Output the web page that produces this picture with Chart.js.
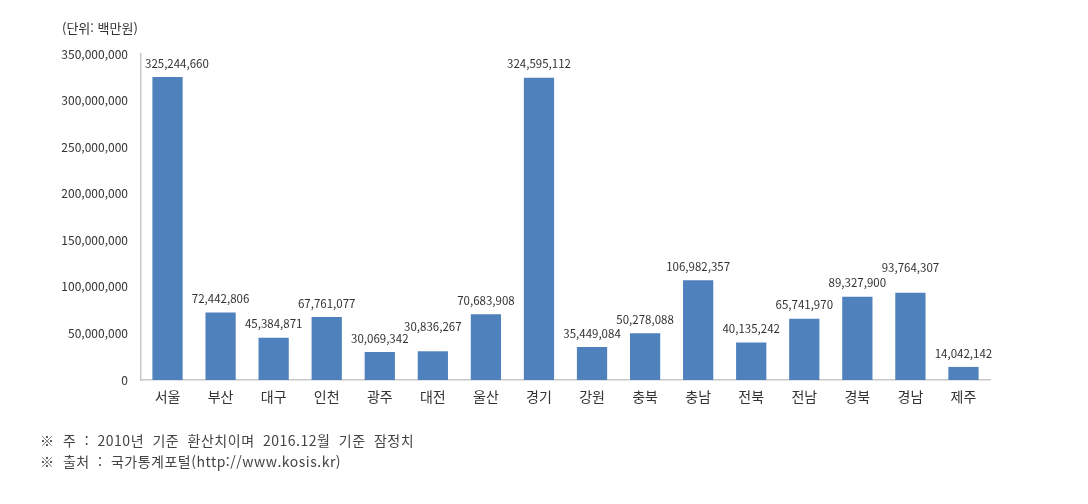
<!DOCTYPE html>
<html lang="ko">
<head>
<meta charset="utf-8">
<script src="https://cdn.jsdelivr.net/npm/chart.js@4"></script>
<style>
  html, body { margin: 0; padding: 0; background: #fff; }
  #wrap { position: relative; width: 1088px; height: 504px; }
  canvas { position: absolute; left: 0; top: 0; }
  .note { position: absolute; font-family: 'Noto Sans CJK KR', sans-serif; color: #333; white-space: nowrap; }
  .foot { font-size: 14px; color: #444; letter-spacing: 0.5px; word-spacing: 4px; }
</style>
</head>
<body>
<div id="wrap">
  <canvas id="chart" width="1088" height="504"></canvas>
  <div class="note" style="left:62px; top:18px; font-size:13px;">(단위: 백만원)</div>
  <div class="note foot" style="left:40px; top:430px;">※ 주 : 2010년 기준 환산치이며 2016.12월 기준 잠정치</div>
  <div class="note foot" style="left:40px; top:451px;">※ 출처 : 국가통계포털(http://www.kosis.kr)</div>
</div>
<script>
// ─── Data ─────────────────────────────────────────────
const regions = ['서울', '부산', '대구', '인천', '광주', '대전', '울산', '경기',
                 '강원', '충북', '충남', '전북', '전남', '경북', '경남', '제주'];
const grdpValues = [325244660, 72442806, 45384871, 67761077, 30069342, 30836267, 70683908, 324595112,
                    35449084, 50278088, 106982357, 40135242, 65741970, 89327900, 93764307, 14042142];
const yTicks = [0, 50000000, 100000000, 150000000, 200000000, 250000000, 300000000, 350000000];

const BAR_COLOR = '#4F81BD';
const AXIS_COLOR = '#c8c8c8';
const FONT = "'Noto Sans CJK KR', 'Noto Sans', sans-serif";

const fmt = v => v.toLocaleString('en-US');

// value labels above each bar, lifted when they would collide with the previous one
const valueLabels = {
  id: 'valueLabels',
  afterDatasetsDraw(chart) {
    const { ctx, chartArea } = chart;
    const meta = chart.getDatasetMeta(0);
    ctx.save();
    ctx.font = '11.5px ' + FONT;
    ctx.fillStyle = '#333';
    ctx.textAlign = 'center';
    ctx.textBaseline = 'bottom';
    let prev = null;
    meta.data.forEach((bar, i) => {
      const text = fmt(grdpValues[i]);
      const w = ctx.measureText(text).width;
      let x = Math.max(bar.x, chartArea.left + 4 + w / 2);
      let y = bar.y - 8;
      if (prev && x - w / 2 < prev.right + 2 && Math.abs(y - prev.y) < 13) {
        y = Math.min(y, prev.y) - 11;
      }
      ctx.fillText(text, x, y);
      prev = { right: x + w / 2, y };
    });
    ctx.restore();
  }
};

new Chart(document.getElementById('chart'), {
  type: 'bar',
  data: {
    labels: regions,
    datasets: [{
      data: grdpValues,
      backgroundColor: BAR_COLOR,
      borderWidth: 0,
      categoryPercentage: 1,
      barPercentage: 0.57,
    }]
  },
  options: {
    responsive: false,
    animation: false,
    layout: { padding: { top: 54, right: 98, bottom: 0, left: 0 } },
    plugins: { legend: { display: false }, tooltip: { enabled: false } },
    scales: {
      x: {
        grid: { display: false, drawTicks: false },
        border: { color: AXIS_COLOR, width: 1.5 },
        ticks: { color: '#333', font: { family: FONT, size: 14 }, padding: 8, maxRotation: 0 },
        afterFit(scale) { scale.height = 124; }
      },
      y: {
        min: 0, max: 350000000,
        grid: { display: false, drawTicks: false },
        border: { color: AXIS_COLOR, width: 1.5 },
        afterBuildTicks(scale) { scale.ticks = yTicks.map(v => ({ value: v })); },
        ticks: { color: '#333', font: { family: FONT, size: 12 }, padding: 13, callback: v => fmt(v) },
        afterFit(scale) { scale.width = 141; }
      }
    }
  },
  plugins: [valueLabels]
});
</script>
</body>
</html>
